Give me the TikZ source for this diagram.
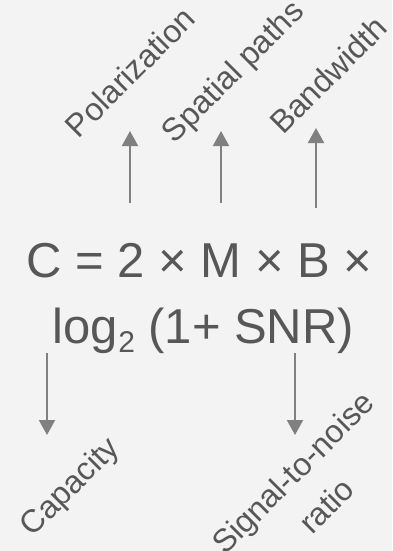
\documentclass[tikz,border=0pt]{standalone}
\usepackage{fontspec}
\setmainfont{Liberation Sans}
\usetikzlibrary{arrows.meta}
\definecolor{bg}{HTML}{F3F3F3}
\definecolor{txt}{HTML}{575757}
\definecolor{arr}{HTML}{808080}
\begin{document}
\begin{tikzpicture}[x=1pt,y=-1pt,
  lbl/.style={text=txt, font=\fontsize{32}{47}\selectfont, rotate=45, inner sep=0pt, align=center},
  eq/.style={text=txt, font=\fontsize{49}{66}\selectfont, inner sep=0pt, anchor=base},
  arrow/.style={draw=arr, line width=2pt, -{Triangle[length=15pt,width=16pt]}}]
\fill[bg] (0,0) rectangle (392,551);
\useasboundingbox (0,0) rectangle (392,551);
% formula
\node[eq] (eq1) at (199.5,277) {C = 2 × M × B ×};
\node[eq] (eq2) at (203.5,343) {log\raisebox{-9pt}{\fontsize{30}{30}\selectfont 2} (1+ SNR)};
% labels
\node[lbl] (pol) at (130,72) {Polarization};
\node[lbl] (spa) at (234.5,73) {Spatial paths};
\node[lbl] (ban) at (328,75) {Bandwidth};
\node[lbl] (cap) at (71,488) {Capacity};
\node[lbl] (snr) at (309.5,489) {Signal-to-noise\\ratio};
% arrow end points
\coordinate (a1s) at (130,203); \coordinate (a1e) at (130,131);
\coordinate (a2s) at (221,203); \coordinate (a2e) at (221,131);
\coordinate (a3s) at (316,208); \coordinate (a3e) at (316,128);
\coordinate (d1s) at (47,353);  \coordinate (d1e) at (47,435);
\coordinate (d2s) at (295,353); \coordinate (d2e) at (295,435);
\draw[arrow] (a1s) -- (a1e);
\draw[arrow] (a2s) -- (a2e);
\draw[arrow] (a3s) -- (a3e);
\draw[arrow] (d1s) -- (d1e);
\draw[arrow] (d2s) -- (d2e);
\end{tikzpicture}
\end{document}
